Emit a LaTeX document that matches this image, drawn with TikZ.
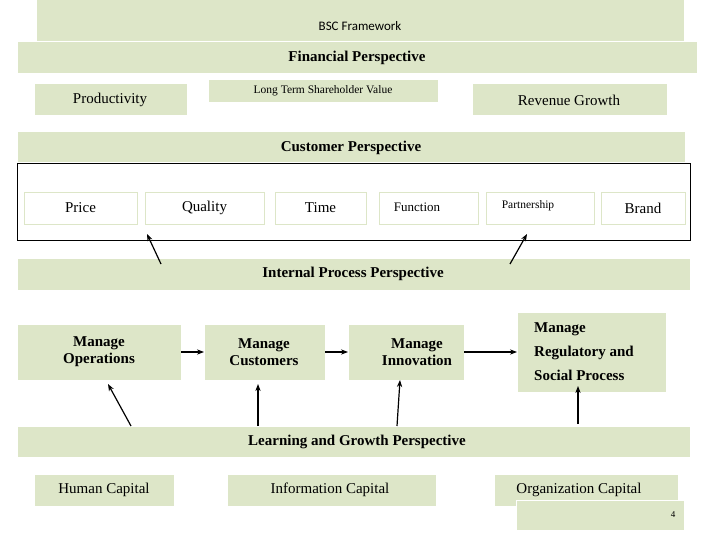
\documentclass[tikz,border=0pt]{standalone}
\usepackage{fontspec}
\setmainfont{Liberation Serif}
\newfontfamily\titlefont{Carlito}
\usetikzlibrary{arrows.meta}
\definecolor{bscgreen}{HTML}{DDE6C8}
\begin{document}
\begin{tikzpicture}
[x=1pt,y=-1pt,thick,%
  band/.style={fill=bscgreen,draw=white,line width=1pt},%
  item/.style={fill=bscgreen,draw=white,line width=1pt},%
  lbl/.style={font=\fontsize{15}{17}\selectfont},%
  head/.style={font=\bfseries\fontsize{15}{17}\selectfont},%
  link/.style={-{Stealth[length=7pt]},line width=1.2pt}]
\useasboundingbox (0,0) rectangle (720,540);
% perspective bands
\draw[band] (36,0) rectangle (684,42);
\node[font=\titlefont\fontsize{13}{15}\selectfont] (title) at (360,26) {BSC Framework};
\draw[band] (17,42) rectangle (697,74);
\node[head] (fin) at (357,58) {Financial Perspective};
\draw[band] (17,132) rectangle (685,163);
\node[head] (cust) at (351,148) {Customer Perspective};
\draw[black,thin,fill=white] (17,163) rectangle (690,240);
\draw[band] (17,258) rectangle (690,290);
\node[head] (ipp) at (353,274) {Internal Process Perspective};
\draw[band] (17,426) rectangle (690,457);
\node[head] (lgp) at (357,442) {Learning and Growth Perspective};
% financial
\draw[item] (34,84) rectangle (187,116);
\node[lbl] (prod) at (110,100) {Productivity};
\draw[item] (208,80) rectangle (438,103);
\node[font=\fontsize{11.5}{13}\selectfont] (ltsv) at (323,91) {Long Term Shareholder Value};
\draw[item] (472,84) rectangle (667,116);
\node[lbl] (rev) at (569,100) {Revenue Growth};
% customer
\foreach \l/\r/\t/\n in {24/137/Price/price,145/264/Quality/qual,275/366/Time/time,601/685/Brand/brand}{
  \draw[bscgreen,thin] (\l,192) rectangle (\r,224);
  \node[lbl] (\n) at ({(\l+\r)/2},208) {\t};
}
\draw[bscgreen,thin] (379,192) rectangle (478,224);
\node[font=\fontsize{13}{15}\selectfont] (func) at (417,207) {Function};
\draw[bscgreen,thin] (486,192) rectangle (594,224);
\node[font=\fontsize{11.5}{13}\selectfont] (part) at (528,206) {Partnership};
% internal
\draw[item] (17,324) rectangle (181,380);
\node[head,align=center] (mops) at (99,352) {Manage\\Operations};
\draw[item] (204,324) rectangle (325,380);
\node[head,align=center] (mcust) at (264,352) {Manage\\Customers};
\draw[item] (348,324) rectangle (464,380);
\node[head,align=center] (minn) at (417,352) {Manage\\Innovation};
\draw[item] (517,312) rectangle (666,392);
\node[head,align=left,font=\bfseries\fontsize{15}{24}\selectfont] (mreg) at (584,352) {Manage\\Regulatory and\\Social Process};
% learning
\draw[item] (34,474) rectangle (174,506);
\node[lbl] (hc) at (104,490) {Human Capital};
\draw[item] (227,474) rectangle (436,506);
\node[lbl] (ic) at (330,490) {Information Capital};
\draw[item] (494,474) rectangle (678,506);
\node[lbl] (oc) at (579,490) {Organization Capital};
\draw[item] (516,500) rectangle (684,530);
\node[font=\fontsize{9}{11}\selectfont] (pg) at (673,515) {4};
% connectors
\coordinate (a1) at (161,264); \coordinate (a2) at (147,234);
\coordinate (b1) at (510,264); \coordinate (b2) at (527,234);
\draw[link] (a1) -- (a2);
\draw[link] (b1) -- (b2);
\draw[link] (181,352) -- (204,352);
\draw[link] (325,352) -- (348,352);
\draw[link] (464,352) -- (517,352);
\coordinate (c1) at (131,426); \coordinate (c2) at (108,384);
\draw[link] (c1) -- (c2);
\draw[link] (258,426) -- (258,384);
\draw[link] (397,426) -- (400,380);
\draw[link] (578,424) -- (578,386);
\end{tikzpicture}
\end{document}
